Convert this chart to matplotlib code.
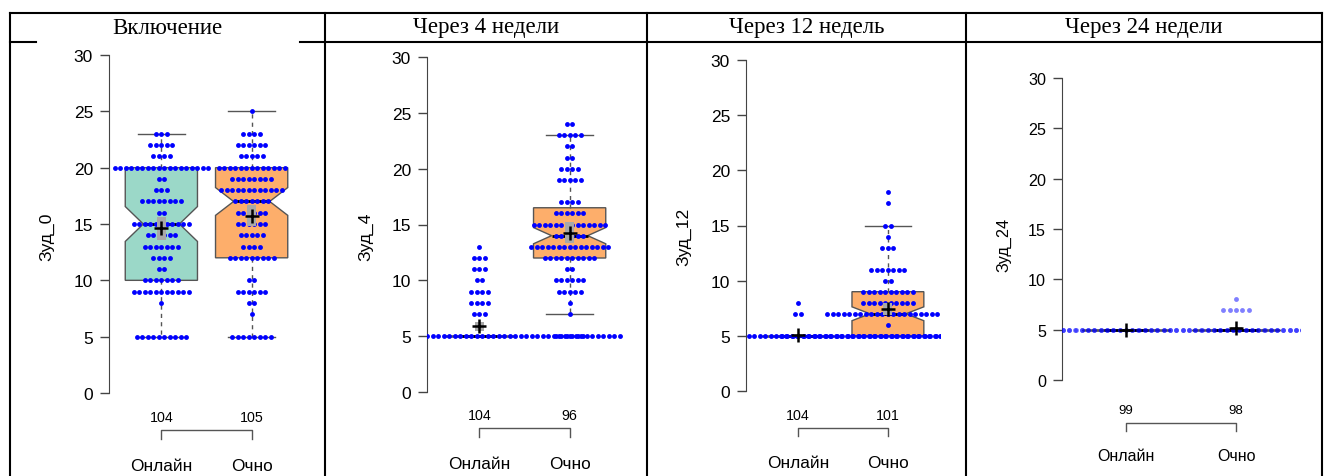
import numpy as np
import matplotlib
matplotlib.use("Agg")
import matplotlib.pyplot as plt
from matplotlib import transforms
from matplotlib.lines import Line2D
from matplotlib.patches import Rectangle

W, H, DPI = 1324, 477, 100

HEADERS = ["Включение", "Через 4 недели", "Через 12 недель", "Через 24 недели"]
Y_LABELS = ["Зуд_0", "Зуд_4", "Зуд_12", "Зуд_24"]
GROUPS = ["Онлайн", "Очно"]

# score levels and number of patients on each level
LEVELS_0_ONLINE = [5, 8, 9, 10, 11, 12, 13, 14, 15, 16, 17, 18, 19, 20, 21, 22, 23]
COUNTS_0_ONLINE = [10, 1, 11, 7, 2, 4, 7, 6, 11, 2, 8, 3, 2, 18, 4, 5, 3]
LEVELS_0_OCHNO = [5, 7, 8, 9, 10, 12, 13, 14, 15, 16, 17, 18, 19, 20, 21, 22, 23, 25]
COUNTS_0_OCHNO = [8, 1, 2, 6, 2, 9, 4, 5, 6, 6, 7, 12, 8, 13, 5, 6, 4, 1]

LEVELS_4_ONLINE = [5, 7, 8, 9, 10, 11, 12, 13]
COUNTS_4_ONLINE = [84, 3, 4, 4, 2, 3, 3, 1]
LEVELS_4_OCHNO = [5, 7, 8, 9, 10, 11, 12, 13, 14, 15, 16, 17, 19, 20, 21, 22, 23, 24]
COUNTS_4_OCHNO = [6, 1, 1, 5, 6, 2, 10, 15, 6, 14, 6, 4, 5, 4, 2, 2, 5, 2]

LEVELS_12_ONLINE = [5, 7, 8]
COUNTS_12_ONLINE = [101, 2, 1]
LEVELS_12_OCHNO = [5, 6, 7, 8, 9, 10, 11, 13, 14, 15, 17, 18]
COUNTS_12_OCHNO = [40, 1, 23, 10, 10, 2, 7, 3, 1, 2, 1, 1]

LEVELS_24_ONLINE = [5]
COUNTS_24_ONLINE = [99]
LEVELS_24_OCHNO = [5, 7, 8]
COUNTS_24_OCHNO = [92, 5, 1]

PANELS = [
    ((LEVELS_0_ONLINE, COUNTS_0_ONLINE), (LEVELS_0_OCHNO, COUNTS_0_OCHNO)),
    ((LEVELS_4_ONLINE, COUNTS_4_ONLINE), (LEVELS_4_OCHNO, COUNTS_4_OCHNO)),
    ((LEVELS_12_ONLINE, COUNTS_12_ONLINE), (LEVELS_12_OCHNO, COUNTS_12_OCHNO)),
    ((LEVELS_24_ONLINE, COUNTS_24_ONLINE), (LEVELS_24_OCHNO, COUNTS_24_OCHNO)),
]

BOX_COLORS = ["#9bd8c8", "#fdae6b"]

# layout in pixels: left, right, y(0), y(30)
PLOT_PX = [(109, 304, 394, 56), (427, 622, 393, 58), (746, 940, 392, 61), (1062, 1300, 381, 79)]
COUNT_Y = [418, 416, 416, 411]
BRACKET_Y = [(431, 440), (429, 438), (429, 437), (424, 432)]
GROUP_Y = [467, 465, 464, 457]
YLAB_XY = [(47, 237), (366, 237), (684, 237), (1004, 245)]
DOT_STEP = [5.5, 5.5, 5.5, 6.3]
SCALE = [1.0, 1.0, 1.0, 0.93]
CELL_X = [10, 325, 647, 966, 1322]

plt.rcParams["font.family"] = ["Liberation Sans", "DejaVu Sans"]


def fivenum(x):
    x = np.sort(x)
    n = len(x)
    n4 = np.floor((n + 3) / 2) / 2
    d = np.array([1, n4, (n + 1) / 2, n + 1 - n4, n])
    return 0.5 * (x[np.floor(d).astype(int) - 1] + x[np.ceil(d).astype(int) - 1])


def box_stats(x):
    _, q1, med, q3, _ = fivenum(x)
    iqr = q3 - q1
    inside = x[(x >= q1 - 1.5 * iqr) & (x <= q3 + 1.5 * iqr)]
    half = 1.58 * iqr / np.sqrt(len(x))
    return {"med": med, "q1": q1, "q3": q3, "whislo": inside.min(), "whishi": inside.max(),
            "cilo": med - half, "cihi": med + half, "fliers": []}


fig = plt.figure(figsize=(W / DPI, H / DPI), dpi=DPI)

for i, groups in enumerate(PANELS):
    left, right, y0, y30 = PLOT_PX[i]
    ppu = (y0 - y30) / 30.0
    bottom = y0 + 1.2 * ppu
    top = y30 - 1.2 * ppu
    ax = fig.add_axes([left / W, 1 - bottom / H, (right - left) / W, (bottom - top) / H])
    ax.set_xlim(0.42, 2.58)
    ax.set_ylim(-1.2, 31.2)
    ax.patch.set_visible(False)
    s = SCALE[i]

    samples = [np.repeat(np.array(lv, float), cn) for lv, cn in groups]
    stats = [box_stats(x) for x in samples]
    bp = ax.bxp(stats, positions=[1, 2], widths=0.8, capwidths=0.52, shownotches=True,
                patch_artist=True, showfliers=False,
                boxprops=dict(edgecolor="#555555", linewidth=1.0),
                whiskerprops=dict(color="#555555", linewidth=1.0, linestyle=(0, (3, 3))),
                capprops=dict(color="#555555", linewidth=1.0),
                medianprops=dict(color="black", linewidth=2.0))
    for patch, c in zip(bp["boxes"], BOX_COLORS):
        patch.set_facecolor(c)
        patch.set_zorder(1)

    px_per_x = (right - left) / 2.16
    dx = DOT_STEP[i] / px_per_x
    dot_color = (0, 0, 1, 0.5) if i == 3 else (0, 0, 1, 1)
    for pos, (lv, cn) in zip([1, 2], groups):
        for v, k in zip(lv, cn):
            offs = (np.arange(k) - (k - 1) / 2) * dx
            ax.plot(pos + offs, np.full(k, v), "o", ms=3.5, color=dot_color, mec="none",
                    zorder=3, clip_on=True)

    trans = transforms.blended_transform_factory(ax.transData, fig.transFigure)
    for pos, x in zip([1, 2], samples):
        m = x.mean()
        ci = 1.96 * x.std(ddof=1) / np.sqrt(len(x))
        ax.add_patch(Rectangle((pos - 0.05, m - ci), 0.1, 2 * ci, facecolor="#a8a8a8",
                               edgecolor="none", zorder=4))
        ax.plot(pos, m, marker="+", ms=10.5, mew=1.8, color="black", zorder=5)
        ax.text(pos, 1 - COUNT_Y[i] / H, str(len(x)), ha="center", va="center",
                fontsize=10.3 * s, transform=trans)
        ax.text(pos, 1 - GROUP_Y[i] / H, GROUPS[pos - 1], ha="center", va="center",
                fontsize=12.4 * s, transform=trans)
    b1, b2 = BRACKET_Y[i]
    ax.plot([1, 1, 2, 2], [1 - b2 / H, 1 - b1 / H, 1 - b1 / H, 1 - b2 / H], color="#555555",
            lw=1.0, transform=trans, clip_on=False)

    for side in ["top", "right", "bottom"]:
        ax.spines[side].set_visible(False)
    ax.spines["left"].set_bounds(0, 30)
    ax.spines["left"].set_color("#444444")
    ax.set_xticks([])
    ax.set_yticks(range(0, 31, 5))
    ax.tick_params(axis="y", length=6.5, width=1.0, pad=5, labelsize=12.5 * s, color="#444444")

    lx, ly = YLAB_XY[i]
    fig.text(lx / W, 1 - ly / H, Y_LABELS[i], rotation=90, ha="center", va="center",
             fontsize=12.6 * s)

    fig.text((CELL_X[i] + CELL_X[i + 1]) / 2 / W, 1 - 28 / H, HEADERS[i], ha="center",
             va="center", fontsize=16.5, family="Liberation Serif")


def hline(x1, x2, y):
    fig.add_artist(Line2D([x1 / W, x2 / W], [1 - y / H, 1 - y / H], color="black", lw=1.5))


def vline(x, y1, y2):
    fig.add_artist(Line2D([x / W, x / W], [1 - y1 / H, 1 - y2 / H], color="black", lw=1.5))


hline(CELL_X[0], CELL_X[-1], 14)
hline(CELL_X[0], 36, 43)
hline(300, CELL_X[-1], 43)
for x in CELL_X:
    vline(x, 14, H)

fig.savefig("out.png", dpi=DPI)
